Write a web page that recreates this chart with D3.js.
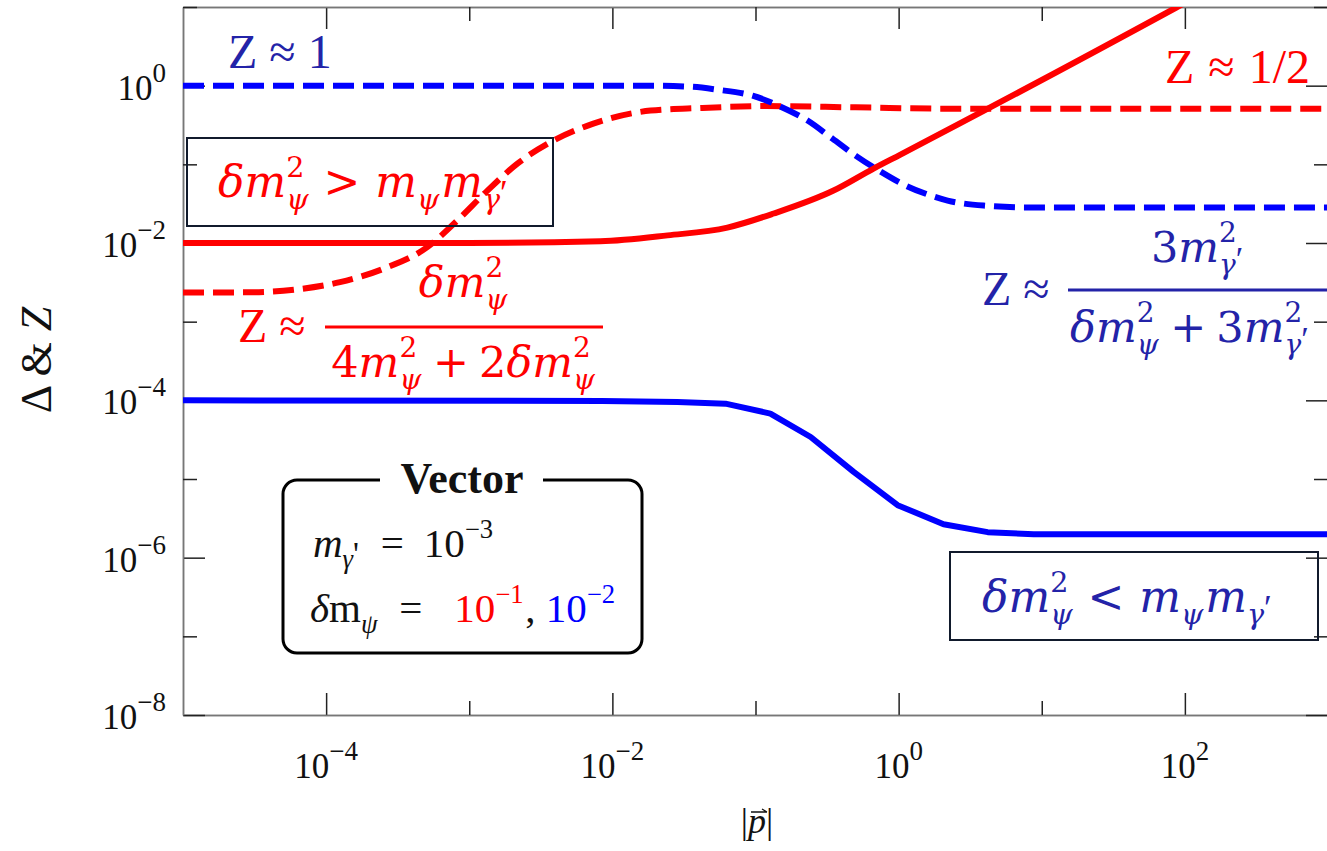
<!DOCTYPE html>
<html>
<head>
<meta charset="utf-8">
<script src="https://cdn.jsdelivr.net/npm/d3@7"></script>
<style>
  body { margin: 0; background: #fff; }
  svg { display: block; }
  text { white-space: pre; }
</style>
</head>
<body>
<svg></svg>
<script>
"use strict";

// curves: [ |p| , value ]
var deltaRed = [
    [1e-5, 0.0100], [1e-3, 0.0100], [0.00824, 0.0105], [0.0243, 0.0125],
    [0.0636, 0.0157], [0.134, 0.0237], [0.351, 0.0464], [0.668, 0.0883],
    [1.03, 0.133], [86.5, 9.78], [1000, 113]
];
var zRed = [
    [1e-5, 0.00235], [3e-5, 0.00236], [6.6e-5, 0.0026], [1.25e-4, 0.00318],
    [2.51e-4, 0.0047], [5.09e-4, 0.00885], [8.24e-4, 0.0193], [1.34e-3, 0.0464],
    [2.17e-3, 0.102], [3.87e-3, 0.200], [7.36e-3, 0.329], [0.0185, 0.482],
    [0.041, 0.52], [0.12, 0.55], [0.5, 0.53], [2.3, 0.51], [1000, 0.51]
];
var deltaBlue = [
    [1e-5, 1.0e-4], [0.0085, 9.8e-5], [0.0285, 9.5e-5], [0.0617, 9.08e-5],
    [0.127, 6.78e-5], [0.243, 3.42e-5], [0.485, 1.23e-5], [0.984, 4.65e-6],
    [2.06, 2.66e-6], [4.19, 2.11e-6], [8.79, 1.99e-6], [1000, 1.98e-6]
];
var zBlue = [
    [1e-5, 1.0], [0.0184, 1.0], [0.035, 0.971], [0.0542, 0.889], [0.0953, 0.746],
    [0.150, 0.541], [0.231, 0.360], [0.345, 0.212], [0.500, 0.129],
    [0.748, 0.0809], [1.12, 0.0537], [1.60, 0.0413], [2.20, 0.0346],
    [3.93, 0.0299], [8.79, 0.0282], [1000, 0.0282]
];

var xMajor = [1e-4, 1e-2, 1, 1e2];
var xMajorExp = ["−4", "−2", "0", "2"];
var xMinor = [1e-3, 1e-1, 10];
var yMajor = [1, 1e-2, 1e-4, 1e-6, 1e-8];
var yMajorExp = ["0", "−2", "−4", "−6", "−8"];
var yMinor = [10, 1e-1, 1e-3, 1e-5, 1e-7];

var RED = "#ff0000", BLUE = "#0000ff", NAVY = "#2323a8";
var serif = "'Liberation Serif', 'Times New Roman', serif";
var mathFont = "'DejaVu Serif', serif";

var svg = d3.select("svg").attr("width", 1327).attr("height", 851);

var x = d3.scaleLog().domain([1e-5, 1e3]).range([183, 1328]);
var y = d3.scaleLog().domain([1e-8, 10]).range([715, 7]);

// frame and ticks
function drawAxis(axisFn, pos, transform, size, values) {
    var g = svg.append("g")
        .attr("transform", transform)
        .call(axisFn(pos).tickValues(values).tickSize(-size).tickSizeOuter(0).tickFormat(""));
    g.select(".domain").attr("stroke", "#777").attr("stroke-width", 1.5);
    g.selectAll(".tick line").attr("stroke", "#222").attr("stroke-width", 1.5);
    return g;
}

drawAxis(d3.axisBottom, x, "translate(0,715)", 22, xMajor);
drawAxis(d3.axisBottom, x, "translate(0,715)", 14, xMinor);
drawAxis(d3.axisTop, x, "translate(0,7)", 22, xMajor);
drawAxis(d3.axisTop, x, "translate(0,7)", 14, xMinor);
drawAxis(d3.axisLeft, y, "translate(183,0)", 22, yMajor);
drawAxis(d3.axisLeft, y, "translate(183,0)", 14, yMinor);
drawAxis(d3.axisRight, y, "translate(1328,0)", 22, yMajor);
drawAxis(d3.axisRight, y, "translate(1328,0)", 14, yMinor);

// tick labels 10^n
function powerLabel(sel, exps) {
    sel.attr("font-family", serif)
        .attr("font-size", 35)
        .attr("fill", "#111")
        .each(function (d, i) {
            d3.select(this).append("tspan").text("10");
            d3.select(this).append("tspan").attr("dy", -18).attr("font-size", 27).text(exps[i]);
        });
}

svg.append("g").selectAll("text")
    .data(xMajor)
    .enter()
    .append("text")
    .attr("x", d => x(d))
    .attr("y", 778)
    .attr("text-anchor", "middle")
    .call(powerLabel, xMajorExp);

svg.append("g").selectAll("text")
    .data(yMajor)
    .enter()
    .append("text")
    .attr("x", 166)
    .attr("y", d => y(d) + 14)
    .attr("text-anchor", "end")
    .call(powerLabel, yMajorExp);

// axis titles
var yTitle = svg.append("text")
    .attr("transform", "translate(51,360) rotate(-90)")
    .attr("text-anchor", "middle")
    .attr("font-family", serif)
    .attr("font-size", 44)
    .attr("fill", "#111");
yTitle.append("tspan").text("Δ & ");
yTitle.append("tspan").attr("font-style", "italic").text("Z");

var xTitle = svg.append("text")
    .attr("x", 757)
    .attr("y", 833)
    .attr("text-anchor", "middle")
    .attr("font-family", serif)
    .attr("font-size", 36)
    .attr("fill", "#111");
xTitle.append("tspan").text("|");
xTitle.append("tspan").attr("font-style", "italic").text("p");
xTitle.append("tspan").text("|");
var pBox = xTitle.node().getExtentOfChar(1);
svg.append("path")
    .attr("d", `M${pBox.x + 3},812 H${pBox.x + pBox.width + 1} M${pBox.x + pBox.width - 4},809 L${pBox.x + pBox.width + 1},812`)
    .attr("stroke", "#111")
    .attr("stroke-width", 1.3)
    .attr("fill", "none");

// curves
svg.append("clipPath").attr("id", "plot")
    .append("rect").attr("x", 183).attr("y", 7).attr("width", 1145).attr("height", 708);

var series = [
    { data: zRed, color: RED, dash: "21,9", curve: d3.curveMonotoneX },
    { data: zBlue, color: BLUE, dash: "21,9", curve: d3.curveMonotoneX },
    { data: deltaRed, color: RED, dash: null, curve: d3.curveMonotoneX },
    { data: deltaBlue, color: BLUE, dash: null, curve: d3.curveLinear }
];

svg.append("g")
    .attr("clip-path", "url(#plot)")
    .selectAll("path")
    .data(series)
    .enter()
    .append("path")
    .attr("d", s => d3.line().x(d => x(d[0])).y(d => y(d[1])).curve(s.curve)(s.data))
    .attr("fill", "none")
    .attr("stroke", s => s.color)
    .attr("stroke-width", 6)
    .attr("stroke-dasharray", s => s.dash)
    .attr("stroke-linejoin", "round");

// math-like text: runs of plain text, gaps, and stacked sup/sub
function mathText(parent, px, py, parts, size, color, anchor, family) {
    var g = parent.append("g")
        .attr("font-family", family || mathFont)
        .attr("fill", color);
    var cx = 0;
    parts.forEach(p => {
        if (p.g !== undefined) {
            cx += p.g;
        } else if (p.t !== undefined) {
            var t = g.append("text")
                .attr("x", cx).attr("y", 0)
                .attr("font-size", size)
                .attr("font-style", p.i ? "italic" : "normal")
                .attr("fill", p.c || color)
                .text(p.t);
            cx += t.node().getComputedTextLength();
        } else {
            var w = 0;
            if (p.sup) {
                var s = g.append("text")
                    .attr("x", cx).attr("y", -size * 0.46)
                    .attr("font-size", size * 0.65)
                    .attr("fill", p.c || color)
                    .text(p.sup);
                w = Math.max(w, s.node().getComputedTextLength());
            }
            if (p.sub) {
                var b = g.append("text")
                    .attr("x", cx).attr("y", size * 0.27)
                    .attr("font-size", size * 0.65)
                    .attr("fill", p.c || color);
                b.append("tspan").attr("font-style", "italic").text(p.sub.replace(/[′']$/, ""));
                if (/[′']$/.test(p.sub)) {
                    b.append("tspan")
                        .attr("font-family", serif)
                        .attr("font-size", size * 0.8)
                        .attr("dy", -size * 0.08)
                        .text(p.sub.slice(-1));
                }
                w = Math.max(w, b.node().getComputedTextLength());
            }
            cx += w + size * 0.04;
        }
    });
    var shift = anchor === "middle" ? -cx / 2 : anchor === "end" ? -cx : 0;
    g.attr("transform", `translate(${px + shift},${py})`);
    return cx;
}

var notes = svg.append("g");

mathText(notes, 228, 68, [{ t: "Z ≈ 1" }], 48, NAVY, "start", serif);
mathText(notes, 1165, 83, [{ t: "Z" }, { g: 14 }, { t: "≈" }, { g: 14 }, { t: "1/2" }], 48, RED, "start", serif);

// regime boxes
notes.append("rect")
    .attr("x", 187).attr("y", 138).attr("width", 366).attr("height", 88)
    .attr("fill", "none").attr("stroke", "#111a2c").attr("stroke-width", 2);
mathText(notes, 218, 197, [
    { t: "δm", i: true }, { sup: "2", sub: "ψ" }, { g: 13 }, { t: ">" }, { g: 15 },
    { t: "m", i: true }, { sub: "ψ" }, { t: "m", i: true }, { sub: "γ′" }
], 44, RED);

notes.append("rect")
    .attr("x", 950).attr("y", 552).attr("width", 368).attr("height", 88)
    .attr("fill", "none").attr("stroke", "#111a2c").attr("stroke-width", 2);
mathText(notes, 982, 612, [
    { t: "δm", i: true }, { sup: "2", sub: "ψ" }, { g: 13 }, { t: "<" }, { g: 15 },
    { t: "m", i: true }, { sub: "ψ" }, { t: "m", i: true }, { sub: "γ′" }
], 44, NAVY);

// red fraction
mathText(notes, 238, 342, [{ t: "Z ≈" }], 48, RED, "start", serif);
notes.append("line")
    .attr("x1", 325).attr("x2", 603).attr("y1", 327).attr("y2", 327)
    .attr("stroke", RED).attr("stroke-width", 3);
mathText(notes, 464, 297, [{ t: "δm", i: true }, { sup: "2", sub: "ψ" }], 43, RED, "middle");
mathText(notes, 464, 377, [
    { t: "4" }, { t: "m", i: true }, { sup: "2", sub: "ψ" }, { g: 10 }, { t: "+" }, { g: 10 },
    { t: "2" }, { t: "δm", i: true }, { sup: "2", sub: "ψ" }
], 43, RED, "middle");

// blue fraction
mathText(notes, 982, 305, [{ t: "Z ≈" }], 48, NAVY, "start", serif);
notes.append("line")
    .attr("x1", 1068).attr("x2", 1330).attr("y1", 290).attr("y2", 290)
    .attr("stroke", NAVY).attr("stroke-width", 3);
mathText(notes, 1198, 262, [{ t: "3" }, { t: "m", i: true }, { sup: "2", sub: "γ′" }], 43, NAVY, "middle");
mathText(notes, 1070, 342, [
    { t: "δm", i: true }, { sup: "2", sub: "ψ" }, { g: 10 }, { t: "+" }, { g: 10 },
    { t: "3" }, { t: "m", i: true }, { sup: "2", sub: "γ′" }
], 43, NAVY);

// legend box
var legend = svg.append("g");
legend.append("rect")
    .attr("x", 283).attr("y", 480).attr("width", 359).attr("height", 173)
    .attr("rx", 14)
    .attr("fill", "white").attr("stroke", "#000").attr("stroke-width", 3);
legend.append("rect")
    .attr("x", 380).attr("y", 470).attr("width", 163).attr("height", 20)
    .attr("fill", "white");
legend.append("text")
    .attr("x", 462).attr("y", 493)
    .attr("text-anchor", "middle")
    .attr("font-family", serif)
    .attr("font-weight", "bold")
    .attr("font-size", 44)
    .attr("fill", "#111")
    .text("Vector");
mathText(legend, 313, 557, [
    { t: "m", i: true }, { sub: "γ'" }, { g: 20 }, { t: "=" }, { g: 20 }, { t: "10" }, { sup: "−3" }
], 41, "#111", "start", serif);
mathText(legend, 310, 622, [
    { t: "δ", i: true }, { t: "m" }, { sub: "ψ" }, { g: 20 }, { t: "=" }, { g: 32 },
    { t: "10", c: RED }, { sup: "−1", c: RED }, { t: ", " },
    { t: "10", c: BLUE }, { sup: "−2", c: BLUE }
], 41, "#111", "start", serif);
</script>
</body>
</html>
